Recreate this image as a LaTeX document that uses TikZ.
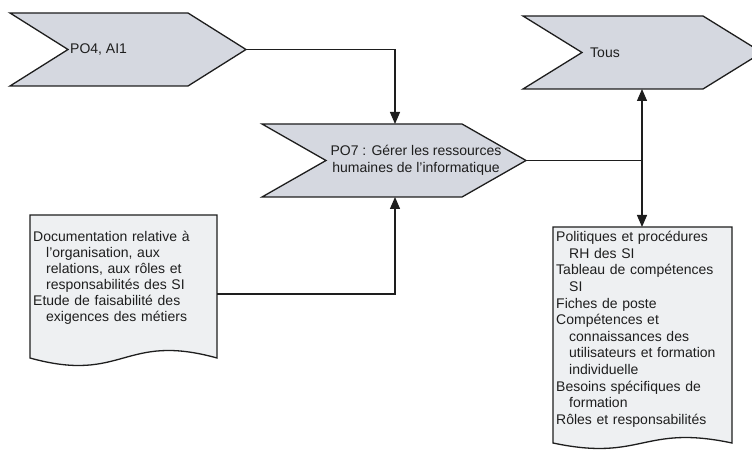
\documentclass[tikz,border=0pt]{standalone}
\usepackage{fontspec}
\setmainfont{Liberation Sans}
\usetikzlibrary{arrows.meta}

\definecolor{chevfill}{HTML}{D5D8E0}
\definecolor{docfill}{HTML}{EEF0F2}
\definecolor{ink}{HTML}{1E1E1E}

% chevron: top-left corner (x,y), top width, point depth
\newcommand\chevronpath[4]{%
  \draw[chev] (#1,#2) -- ++(#3,0) -- ++(#4,36.5) -- ++(-#4,36.5)
    -- ++(-#3,0) -- ++(#4,-36.5) -- cycle;}
% document: left, right, top, wave base line, wave strength
\newcommand\docpath[5]{%
  \draw[doc] (#1,#3) -- (#2,#3) -- (#2,#4)
    .. controls ({(#1+#2)/2},{#4-#5}) and ({(#1+#2)/2},{#4+#5}) .. (#1,#4) -- cycle;}
% list lines: first line of an item, and its indented continuation lines
\newcommand\itemline{\par\noindent}
\newcommand\contline{\par\noindent\hspace*{13bp}}

\begin{document}
\begin{tikzpicture}[x=1bp,y=-1bp,
  chev/.style={draw=ink,fill=chevfill,line width=1.3bp,line join=miter},
  doc/.style={draw=ink,fill=docfill,line width=1.3bp},
  link/.style={draw=ink,line width=1.3bp},
  arr/.style={link,-{Triangle[length=12bp,width=10bp]}},
  lbl/.style={inner sep=0,font=\fontsize{14bp}{16.5bp}\selectfont,text=ink},
  doctext/.style={lbl,anchor=north west,text width=#1}]
\useasboundingbox (0,0) rectangle (752,456);
\begin{scope}
\clip (0,0) rectangle (752,456);

% process shapes
\chevronpath{10}{13}{178}{58}
\chevronpath{262}{124}{200}{64}
\chevronpath{523}{16}{180}{59}

% document shapes
\docpath{30}{217}{215}{358}{26}
\docpath{553}{732}{227}{443}{19}

% labels
\node[lbl,anchor=west] (po4) at (70,49.5) {PO4, AI1};
\node[lbl,align=center] (po7) at (416,160.5) {PO7 : Gérer les ressources\\humaines de l’informatique};
\node[lbl,anchor=west] (tous) at (590,52.5) {Tous};

\node[doctext=185bp] (entrees) at (33,225)
  {\raggedright\baselineskip=16bp
   \itemline Documentation relative à
   \contline l’organisation, aux
   \contline relations, aux rôles et
   \contline responsabilités des SI
   \itemline Etude de faisabilité des
   \contline exigences des métiers\par};
\node[doctext=176bp] (sorties) at (556,225)
  {\raggedright\baselineskip=16.6bp
   \itemline Politiques et procédures
   \contline RH des SI
   \itemline Tableau de compétences
   \contline SI
   \itemline Fiches de poste
   \itemline Compétences et
   \contline connaissances des
   \contline utilisateurs et formation
   \contline individuelle
   \itemline Besoins spécifiques de
   \contline formation
   \itemline Rôles et responsabilités\par};

% connection points
\coordinate (po4tip) at (246,49.5);
\coordinate (po7top) at (395,124);
\coordinate (po7bot) at (395,197);
\coordinate (po7tip) at (526,160.5);
\coordinate (split) at (642,160.5);
\coordinate (tousbot) at (642,89);
\coordinate (docintop) at (642,227);
\coordinate (docinside) at (217,294);

% connectors
\draw[arr] (po4tip) -| (po7top);
\draw[arr] (docinside) -| (po7bot);
\draw[link] (po7tip) -- (split);
\draw[arr] (split) -- (tousbot);
\draw[arr] (split) -- (docintop);
\end{scope}
\end{tikzpicture}
\end{document}
